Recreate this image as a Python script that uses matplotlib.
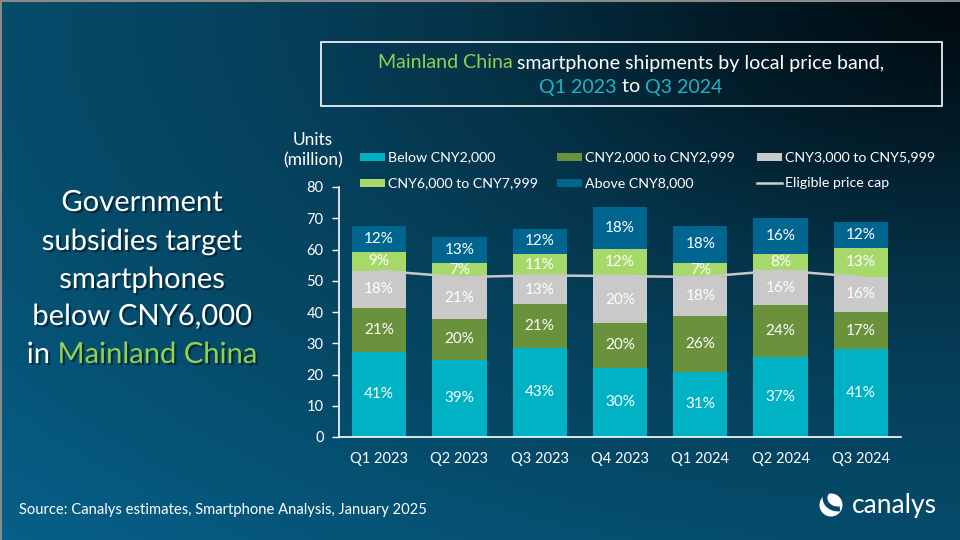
import numpy as np
import matplotlib
matplotlib.use('Agg')
import matplotlib.pyplot as plt
from matplotlib.colors import LinearSegmentedColormap
from matplotlib.patches import Rectangle, Circle, Arc
from matplotlib.transforms import IdentityTransform
import matplotlib.patheffects as pe

# ---------------- data ----------------
quarters = ['Q1 2023', 'Q2 2023', 'Q3 2023', 'Q4 2023', 'Q1 2024', 'Q2 2024', 'Q3 2024']
below_2000 = [27.2, 24.7, 28.5, 22.2, 20.9, 25.5, 28.1]
cny_2000_2999 = [14.1, 13.1, 14.1, 14.3, 17.9, 16.8, 11.9]
cny_3000_5999 = [11.9, 13.4, 9.1, 15.0, 12.4, 11.0, 11.2]
cny_6000_7999 = [6.1, 4.5, 6.9, 8.7, 4.5, 5.3, 9.3]
above_8000 = [8.3, 8.4, 8.0, 13.5, 11.9, 11.5, 8.4]

pct_below_2000 = [41, 39, 43, 30, 31, 37, 41]
pct_2000_2999 = [21, 20, 21, 20, 26, 24, 17]
pct_3000_5999 = [18, 21, 13, 20, 18, 16, 16]
pct_6000_7999 = [9, 7, 11, 12, 7, 8, 13]
pct_above_8000 = [12, 13, 12, 18, 18, 16, 12]

series_names = ['Below CNY2,000', 'CNY2,000 to CNY2,999', 'CNY3,000 to CNY5,999',
                'CNY6,000 to CNY7,999', 'Above CNY8,000']
line_name = 'Eligible price cap'
y_ticks = [0, 10, 20, 30, 40, 50, 60, 70, 80]

# ---------------- style ----------------
FONT = 'Lato'
W, H = 960, 540
colors = ['#00B2C3', '#6A913B', '#C9C9C9', '#A6D96A', '#00658F']
GREEN_TXT = '#92D050'
CYAN_TXT = '#1DB4C8'

fig = plt.figure(figsize=(9.6, 5.4), dpi=100)
renderer = fig.canvas.get_renderer()

# background gradient
bg = fig.add_axes([0, 0, 1, 1], zorder=-10)
yy, xx = np.mgrid[0:H, 0:W]
d = np.sqrt(((W - xx) / 960.0) ** 2 + (yy / 540.0) ** 2) / 1.4143
cmap = LinearSegmentedColormap.from_list('bg', [
    (0.0, '#010a0f'), (0.176, '#021b27'), (0.352, '#053247'),
    (0.5, '#053f5a'), (0.704, '#054c6b'), (1.0, '#07608a')])
bg.imshow(d, cmap=cmap, vmin=0, vmax=1, aspect='auto', extent=[0, W, H, 0])
bg.set_xlim(0, W); bg.set_ylim(H, 0)
bg.axis('off')
# thin grey border top and left
bg.plot([0, W], [0.5, 0.5], color='#8a8a8a', lw=1.5)
bg.plot([0.5, 0.5], [0, H], color='#8a8a8a', lw=1.5)


def px(x, y):
    return x / W, 1 - y / H


# ---------------- main axes ----------------
ax = fig.add_axes([339 / W, 103 / H, 562 / W, 250 / H])
ax.set_facecolor('none')
x = np.arange(len(quarters))
series = [below_2000, cny_2000_2999, cny_3000_5999, cny_6000_7999, above_8000]
pcts = [pct_below_2000, pct_2000_2999, pct_3000_5999, pct_6000_7999, pct_above_8000]
bottom = np.zeros(len(quarters))
for vals, p, c in zip(series, pcts, colors):
    vals = np.array(vals)
    ax.bar(x, vals, 0.675, bottom=bottom, color=c, zorder=2)
    for xi, b, v, pi in zip(x, bottom, vals, p):
        ax.text(xi, b + v / 2, f'{pi}%', ha='center', va='center', color='white',
                fontsize=11, family=FONT, zorder=5)
    bottom = bottom + vals

cap = np.array(below_2000) + np.array(cny_2000_2999) + np.array(cny_3000_5999)
ax.plot(x, cap, color='#c8c8c8', lw=1.8, zorder=3)

ax.set_xlim(-0.5, len(quarters) - 0.5)
ax.set_ylim(0, 80)
ax.set_yticks(y_ticks)
ax.set_xticks(x)
ax.set_xticklabels(quarters)
for s in ['top', 'right']:
    ax.spines[s].set_visible(False)
for s in ['left', 'bottom']:
    ax.spines[s].set_color('white')
    ax.spines[s].set_linewidth(1.2)
ax.tick_params(axis='y', colors='white', length=5, width=1, pad=6, labelsize=10.5)
ax.tick_params(axis='x', colors='white', length=0, pad=11, labelsize=10.5)
for lab in ax.get_xticklabels() + ax.get_yticklabels():
    lab.set_family(FONT)

# units label
fig.text(*px(313, 140), 'Units', ha='center', va='center', color='white', fontsize=12.5, family=FONT)
fig.text(*px(313, 160), '(million)', ha='center', va='center', color='white', fontsize=12.5, family=FONT)

# ---------------- legend (manual) ----------------
leg_cols = [360, 557, 757]
leg_rows = [157, 183]
entries = [(series_names[0], colors[0], 0, 0), (series_names[1], colors[1], 1, 0),
           (series_names[2], colors[2], 2, 0), (series_names[3], colors[3], 0, 1),
           (series_names[4], colors[4], 1, 1)]
for name, c, ci, ri in entries:
    lx, ly = leg_cols[ci], leg_rows[ri]
    fig.patches.append(Rectangle((lx, H - ly - 4), 25, 8, transform=IdentityTransform(),
                                 facecolor=c, edgecolor='none'))
    fig.text(*px(lx + 28, ly), name, ha='left', va='center', color='white', fontsize=10.2, family=FONT)
lx, ly = leg_cols[2], leg_rows[1]
fig.lines.append(plt.Line2D([lx, lx + 25], [H - ly, H - ly], transform=IdentityTransform(),
                            color='#d0d0d0', lw=1.8))
fig.text(*px(lx + 28, ly), line_name, ha='left', va='center', color='white', fontsize=10.2, family=FONT)


# ---------------- multicolour text helper ----------------
def width_of(s, size, **kw):
    t = fig.text(0, 0, s, fontsize=size, family=FONT, **kw)
    w = t.get_window_extent(renderer).width
    t.remove()
    return w


def multicolor(xc, yc, parts, size, effects=None):
    full = ''.join(s for s, _ in parts)
    total = width_of(full, size)
    m = width_of('M', size)
    start = xc - total / 2
    prefix = ''
    for s, c in parts:
        off = width_of(prefix + 'M', size) - m if prefix else 0
        t = fig.text(*px(start + off, yc), s, ha='left', va='center', color=c,
                     fontsize=size, family=FONT)
        if effects:
            t.set_path_effects(effects)
        prefix += s


# title box
fig.patches.append(Rectangle(px(321, 106), 621 / W, 64 / H, transform=fig.transFigure,
                             facecolor='none', edgecolor='white', lw=1.2))
multicolor(631, 63, [('Mainland China', GREEN_TXT),
                     (' smartphone shipments by local price band,', 'white')], 14.1)
multicolor(631, 87, [('Q1 2023', CYAN_TXT), (' to ', 'white'), ('Q3 2024', CYAN_TXT)], 14.1)

# left headline
shadow = [pe.SimplePatchShadow(offset=(1.5, -1.5), shadow_rgbFace='black', alpha=0.45), pe.Normal()]
left_lines = [[('Government', 'white')],
              [('subsidies target', 'white')],
              [('smartphones', 'white')],
              [('below CNY6,000', 'white')],
              [('in ', 'white'), ('Mainland China', GREEN_TXT)]]
for yline, parts in zip([203, 242, 280, 317, 355], left_lines):
    multicolor(142, yline, parts, 21, effects=shadow)

# source
fig.text(*px(19, 510), 'Source: Canalys estimates, Smartphone Analysis, January 2025',
         ha='left', va='center', color='white', fontsize=10.6, family=FONT)

# logo
fig.patches.append(Circle((831, H - 505), 11.5, transform=IdentityTransform(),
                          facecolor='white', edgecolor='none'))
fig.patches.append(Arc((838, H - 498), 26, 22, theta1=150, theta2=280,
                       transform=IdentityTransform(), color='#06486a', lw=3.5))
fig.text(*px(852, 506), 'canalys', ha='left', va='center', color='white',
         fontsize=19, family=FONT)

fig.savefig('out.png', dpi=100)
